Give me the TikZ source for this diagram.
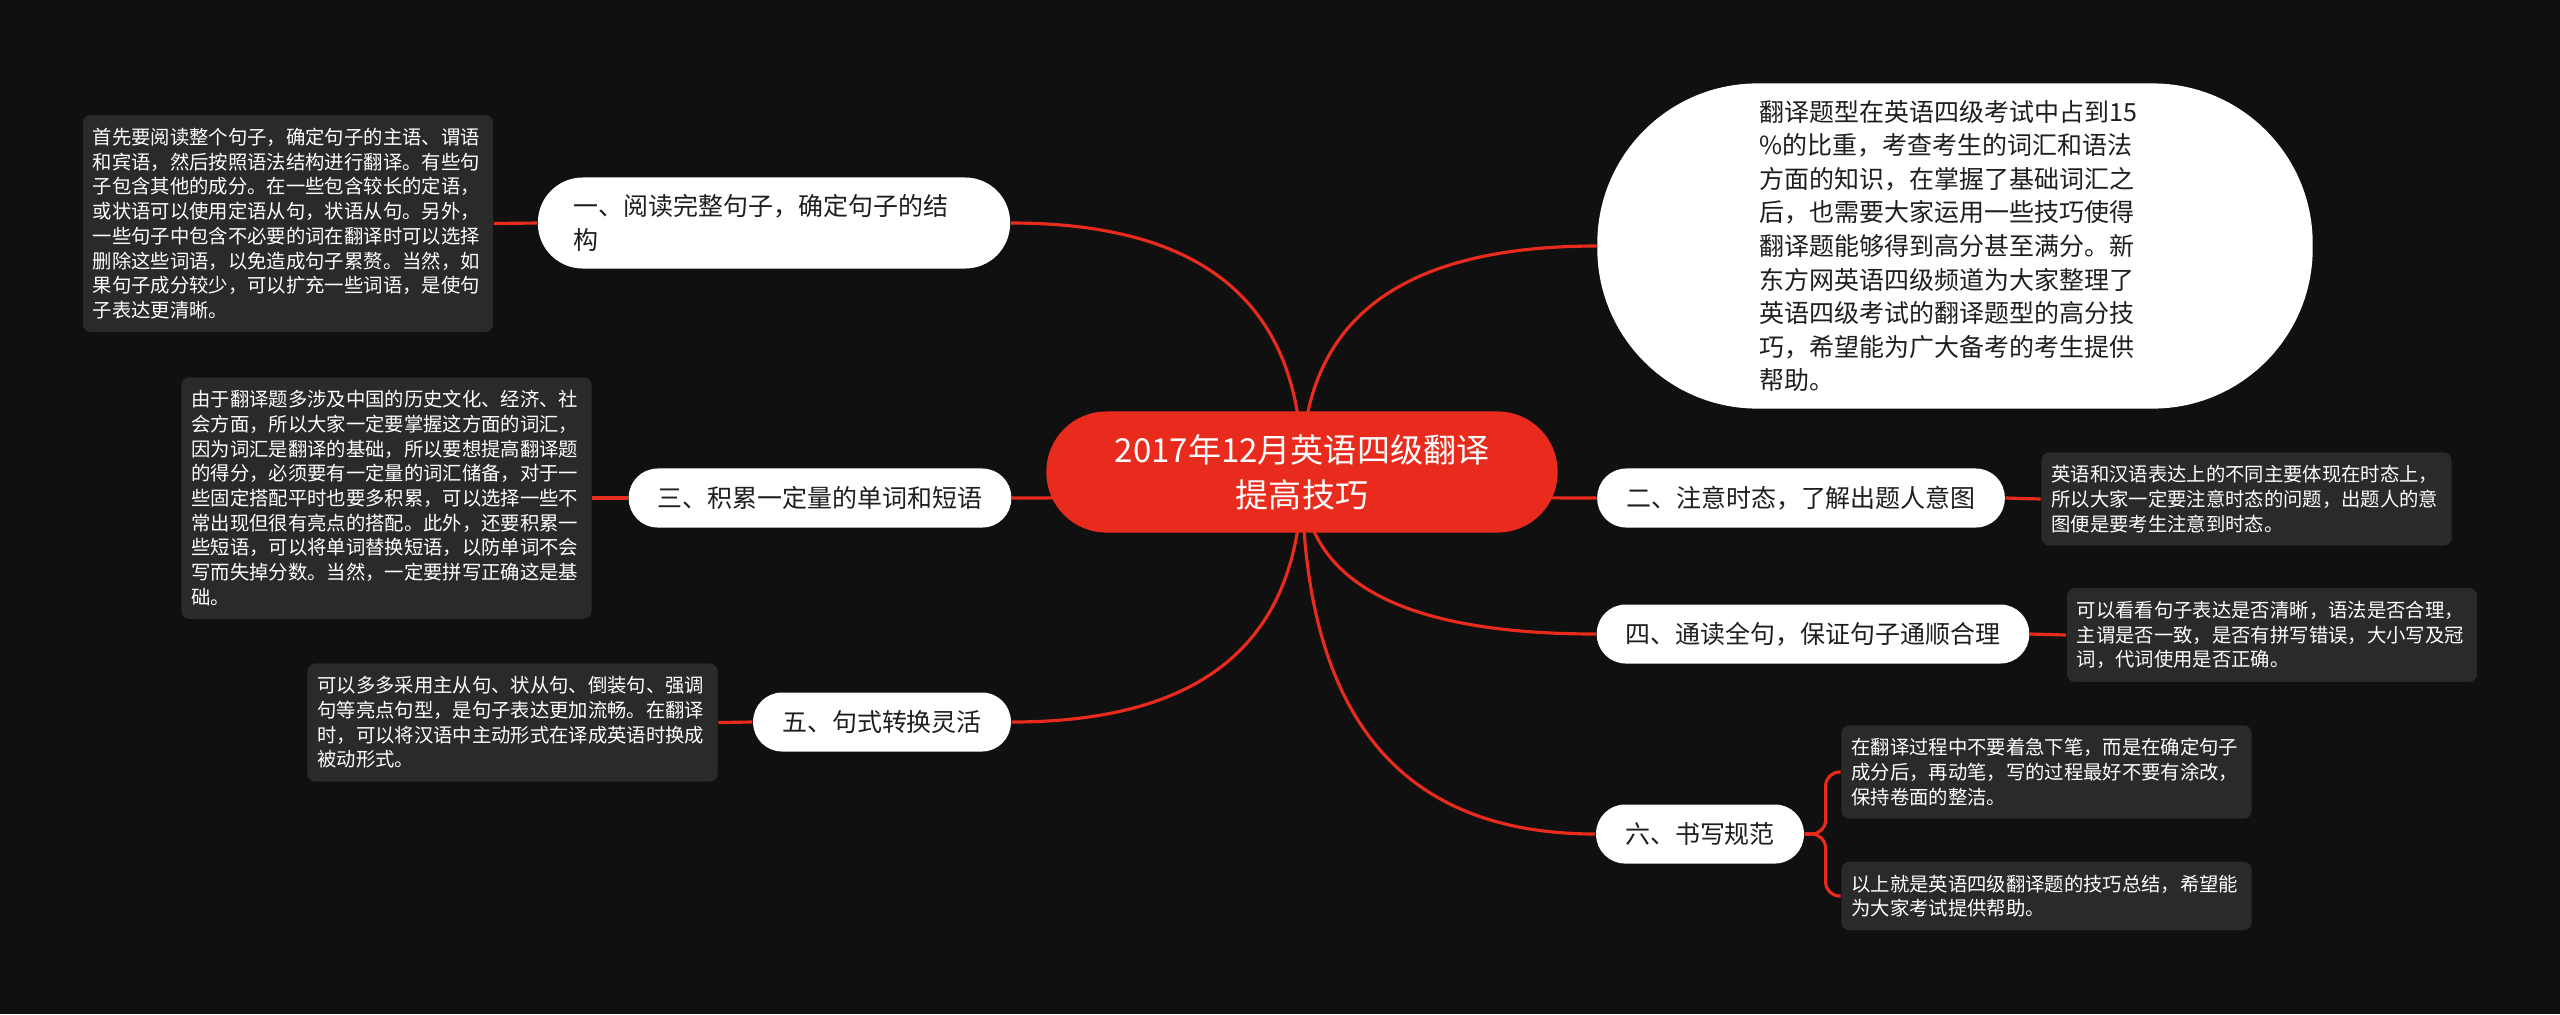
\documentclass[tikz,border=0pt]{standalone}
\usepackage{fontspec}
\setmainfont{Noto Sans CJK SC}
\usetikzlibrary{calc}

\definecolor{canvas}{HTML}{101010}
\definecolor{topicred}{HTML}{E82B1C}
\definecolor{notegray}{HTML}{2A2A2A}
\definecolor{inkdark}{HTML}{1E1E1E}

\pgfdeclarelayer{canvaslayer}
\pgfdeclarelayer{linklayer}
\pgfsetlayers{canvaslayer, linklayer, main}

\tikzset{
	root/.style = {fill = topicred, text = white, rounded corners = 0.6cm, minimum width = 5.11cm, minimum height = 1.21cm, align = center, font = \fontsize{9.4pt}{12.8pt}\selectfont},
	topic/.style = {fill = white, text = inkdark, rounded corners = 0.29cm, minimum height = 0.59cm, inner xsep = 0.29cm, inner ysep = 0pt, font = \fontsize{7.1pt}{9.7pt}\selectfont},
	note/.style = {fill = notegray, text = white, rounded corners = 0.08cm, text width = 3.9cm, align = left, inner xsep = 0.1cm, inner ysep = 0.13cm, font = \fontsize{5.5pt}{7.03pt}\selectfont},
	link/.style = {draw = topicred, line width = 0.9pt},
	curved/.style = {to path = {.. controls ($(\tikztostart)!0.67!(\tikztostart |- \tikztotarget)$) and ($(\tikztotarget)!0.67!(\tikztostart |- \tikztotarget)$) .. (\tikztotarget)}}
}

\begin{document}
\begin{tikzpicture}[x = 0.01cm, y = -0.01cm]

	% Canvas
	
	\begin{pgfonlayer}{canvaslayer}
		\fill [canvas] (0, 0) rectangle (2560, 1014);
	\end{pgfonlayer}

	% Central topic
	
	\node [root] (root) at (1302, 472) {2017年12月英语四级翻译\\提高技巧};
	
	% Intro bubble
	
	\node [fill = white, text = inkdark, rounded corners = 1.6cm, minimum width = 7.15cm, minimum height = 3.25cm, text width = 3.9cm, align = left, font = \fontsize{7.1pt}{9.56pt}\selectfont] (intro) at (1955, 246) {翻译题型在英语四级考试中占到15\\\%的比重，考查考生的词汇和语法\\方面的知识，在掌握了基础词汇之\\后，也需要大家运用一些技巧使得\\翻译题能够得到高分甚至满分。新\\东方网英语四级频道为大家整理了\\英语四级考试的翻译题型的高分技\\巧，希望能为广大备考的考生提供\\帮助。};
	
	% Topics, left side
	
	\node [topic, minimum width = 4.72cm, minimum height = 0.91cm, text width = 4cm, align = left, rounded corners = 0.45cm] (read) at (774, 223) {一、阅读完整句子，确定句子的结\\构};
	\node [topic] (words) at (820, 498) {三、积累一定量的单词和短语};
	\node [topic] (forms) at (882, 722) {五、句式转换灵活};
	
	% Topics, right side
	
	\node [topic] (tense) at (1801, 498) {二、注意时态，了解出题人意图};
	\node [topic] (check) at (1813, 634) {四、通读全句，保证句子通顺合理};
	\node [topic] (neat) at (1700, 834) {六、书写规范};
	
	% Notes
	
	\node [note] (readnote) at (288, 223.5) {首先要阅读整个句子，确定句子的主语、谓语\\和宾语，然后按照语法结构进行翻译。有些句\\子包含其他的成分。在一些包含较长的定语，\\或状语可以使用定语从句，状语从句。另外，\\一些句子中包含不必要的词在翻译时可以选择\\删除这些词语，以免造成句子累赘。当然，如\\果句子成分较少，可以扩充一些词语，是使句\\子表达更清晰。};
	\node [note] (wordsnote) at (386.5, 498) {由于翻译题多涉及中国的历史文化、经济、社\\会方面，所以大家一定要掌握这方面的词汇，\\因为词汇是翻译的基础，所以要想提高翻译题\\的得分，必须要有一定量的词汇储备，对于一\\些固定搭配平时也要多积累，可以选择一些不\\常出现但很有亮点的搭配。此外，还要积累一\\些短语，可以将单词替换短语，以防单词不会\\写而失掉分数。当然，一定要拼写正确这是基\\础。};
	\node [note] (formsnote) at (512.5, 722.5) {可以多多采用主从句、状从句、倒装句、强调\\句等亮点句型，是句子表达更加流畅。在翻译\\时，可以将汉语中主动形式在译成英语时换成\\被动形式。};
	\node [note] (tensenote) at (2246.5, 499) {英语和汉语表达上的不同主要体现在时态上，\\所以大家一定要注意时态的问题，出题人的意\\图便是要考生注意到时态。};
	\node [note] (checknote) at (2272, 635) {可以看看句子表达是否清晰，语法是否合理，\\主谓是否一致，是否有拼写错误，大小写及冠\\词，代词使用是否正确。};
	\node [note] (neatnote) at (2046.5, 772) {在翻译过程中不要着急下笔，而是在确定句子\\成分后，再动笔，写的过程最好不要有涂改，\\保持卷面的整洁。};
	\node [note] (endnote) at (2046.5, 896) {以上就是英语四级翻译题的技巧总结，希望能\\为大家考试提供帮助。};
	
	% Links
	
	\begin{pgfonlayer}{linklayer}
		\draw [link] (root.center) to [curved] (intro.west);
		\draw [link] (root.center) to [curved] (read.east);
		\draw [link] (root.center) to [curved] (words.east);
		\draw [link] (root.center) to [curved] (forms.east);
		\draw [link] (root.center) to [curved] (tense.west);
		\draw [link] (root.center) to [curved] (check.west);
		\draw [link] (root.center) to [curved] (neat.west);
		
		\draw [link] (read.west) -- (readnote.east);
		\draw [link] (words.west) -- (wordsnote.east);
		\draw [link] (forms.west) -- (formsnote.east);
		\draw [link] (tense.east) -- (tensenote.west);
		\draw [link] (check.east) -- (checknote.west);
		\draw [link, rounded corners = 0.14cm] (neat.east) -- ++(21, 0) |- (neatnote.west);
		\draw [link, rounded corners = 0.14cm] (neat.east) -- ++(21, 0) |- (endnote.west);
	\end{pgfonlayer}

\end{tikzpicture}
\end{document}
